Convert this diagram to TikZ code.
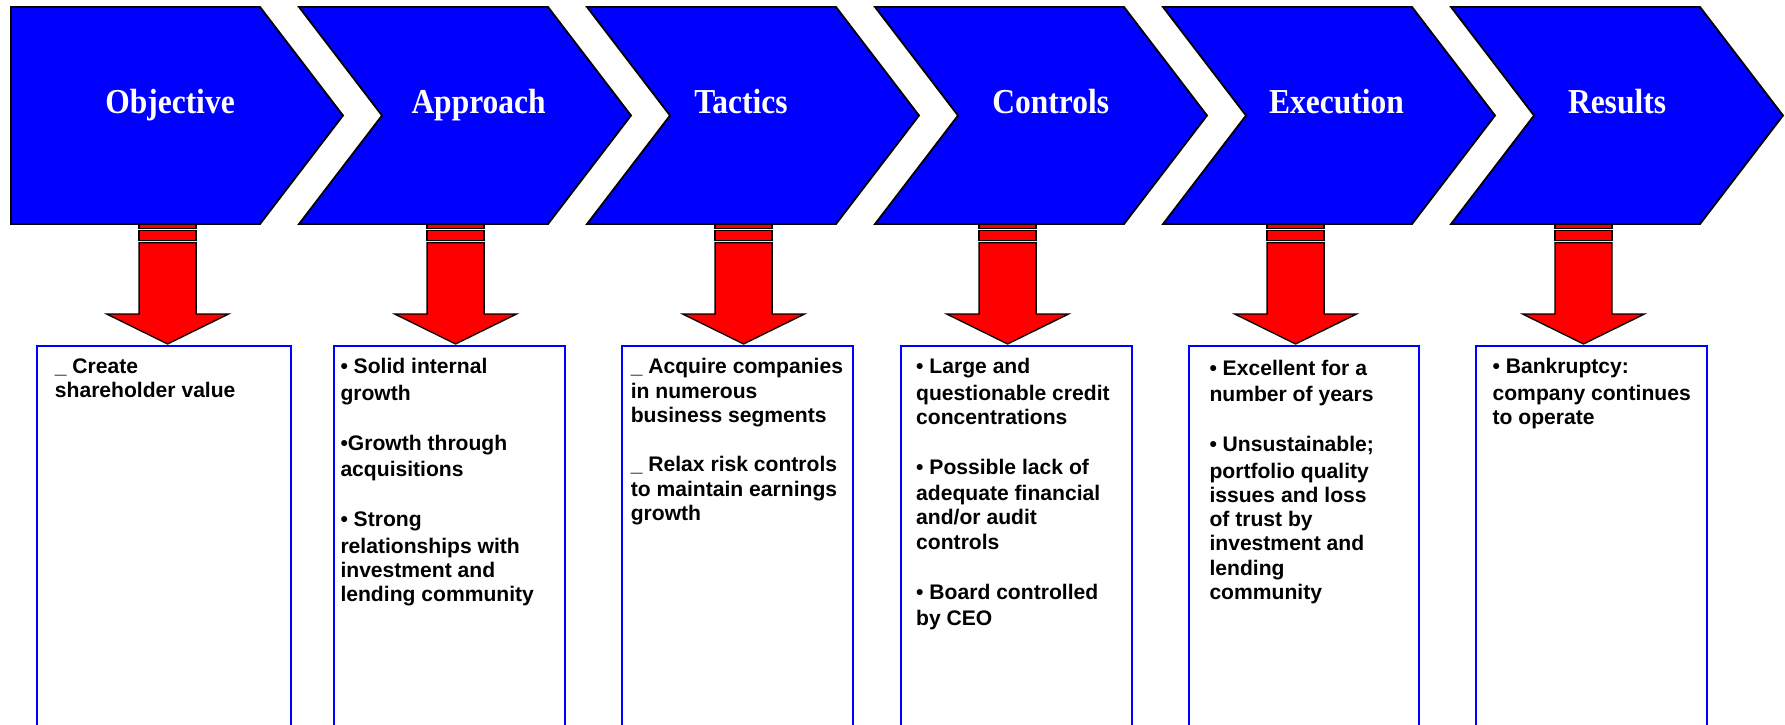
\documentclass[tikz,border=0pt]{standalone}
\usepackage{fontspec}
\newfontfamily\boxfont{Liberation Sans}
\newfontfamily\headfont{Liberation Serif}[FakeStretch=0.9]
\definecolor{chevblue}{RGB}{0,0,255}
\definecolor{arrred}{RGB}{255,0,0}
\definecolor{boxblue}{RGB}{0,0,255}
\tikzset{
  chev/.style={fill=chevblue, draw=black, line width=1.8pt, line join=miter},
  arrowline/.style={fill=arrred, draw=black, line width=1.3pt, line join=miter},
  textbox/.style={draw=boxblue, line width=2pt, anchor=north west, inner sep=0pt, fill=white},
  boxtext/.style={anchor=north west, align=left, inner sep=0pt, text=black,
     font=\boxfont\bfseries\fontsize{21.1}{24.2}\selectfont},
  headtext/.style={anchor=base, inner sep=0pt, text=white,
     font=\headfont\bfseries\fontsize{35}{40}\selectfont},
}
% first baseline minus strut height (0.7 x 24.2pt = 16.94pt)
\newcommand\txtat[1]{#1-16.94}
\newcommand\chevfirst[1]{%
  \draw[chev] (#1,7) -- (#1+249,7) -- (#1+332,115.5) -- (#1+249,224) -- (#1,224) -- cycle;}
\newcommand\chevnext[1]{%
  \draw[chev] (#1,7) -- (#1+249,7) -- (#1+332,115.5) -- (#1+249,224) -- (#1,224) -- (#1+83,115.5) -- cycle;}
\newcommand\redarrow[2]{%
  \coordinate (#1) at (#2,224);
  \draw[arrowline] ([xshift=-28.5pt,yshift=3pt]#1) rectangle ([xshift=28.5pt,yshift=-4.5pt]#1);
  \draw[arrowline] ([xshift=-28.5pt,yshift=-6.7pt]#1) rectangle ([xshift=28.5pt,yshift=-16.3pt]#1);
  \draw[arrowline] ([xshift=-28.5pt,yshift=-18.6pt]#1) -- ([xshift=-28.5pt,yshift=-90pt]#1)
     -- ([xshift=-61pt,yshift=-90pt]#1) -- ([yshift=-120pt]#1) -- ([xshift=61pt,yshift=-90pt]#1)
     -- ([xshift=28.5pt,yshift=-90pt]#1) -- ([xshift=28.5pt,yshift=-18.6pt]#1) -- cycle;}
\newcommand\bl{\\[2.3pt]}
\newcommand\pg{\\[25.8pt]}
\begin{document}
\begin{tikzpicture}[x=1pt,y=-1pt]
\useasboundingbox (0,0) rectangle (1785,725);

% text boxes (open at the bottom edge of the picture)
\node[textbox, minimum width=254pt, minimum height=400pt] (b1) at (35.6,344.6) {};
\node[textbox, minimum width=231pt, minimum height=400pt] (b2) at (333.3,344.6) {};
\node[textbox, minimum width=231pt, minimum height=400pt] (b3) at (621,344.6) {};
\node[textbox, minimum width=231pt, minimum height=400pt] (b4) at (899.7,344.6) {};
\node[textbox, minimum width=230pt, minimum height=400pt] (b5) at (1187.6,344.6) {};
\node[textbox, minimum width=231pt, minimum height=400pt] (b6) at (1475.4,344.6) {};

% red block arrows
\redarrow{a1}{167.6}
\redarrow{a2}{455.6}
\redarrow{a3}{743.6}
\redarrow{a4}{1007.6}
\redarrow{a5}{1295.6}
\redarrow{a6}{1583.5}

% chevrons
\chevfirst{11}
\chevnext{299}
\chevnext{587}
\chevnext{875}
\chevnext{1163}
\chevnext{1451}

\node[headtext] (h1) at (170,113.5) {Objective};
\node[headtext] (h2) at (478.6,113.5) {Approach};
\node[headtext] (h3) at (741,113.5) {Tactics};
\node[headtext] (h4) at (1050.8,113.5) {Controls};
\node[headtext] (h5) at (1336.5,113.5) {Execution};
\node[headtext] (h6) at (1617,113.5) {Results};

% box texts
\node[boxtext] (t1) at (54.7,\txtat{373.3}) {\strut\_ Create\\shareholder value};
\node[boxtext] (t2) at (340.3,\txtat{373.3}) {\strut• Solid internal\bl growth\pg •Growth through\bl acquisitions\pg • Strong\bl relationships with\\investment and\\lending community};
\node[boxtext] (t3) at (630.6,\txtat{373.3}) {\strut\_ Acquire companies\\[0.8pt]in numerous\\business segments\\[24.8pt]\_ Relax risk controls\\[0.8pt]to maintain earnings\\growth};
\node[boxtext] (t4) at (916,\txtat{373.3}) {\strut• Large and\bl questionable credit\\concentrations\pg • Possible lack of\bl adequate financial\\and/or audit\\controls\pg • Board controlled\bl by CEO};
\node[boxtext] (t5) at (1209.3,\txtat{375}) {\strut• Excellent for a\bl number of years\pg • Unsustainable;\bl portfolio quality\\issues and loss\\of trust by\\investment and\\lending\\community};
\node[boxtext] (t6) at (1492.4,\txtat{373.3}) {\strut• Bankruptcy:\bl company continues\\to operate};
\end{tikzpicture}
\end{document}
